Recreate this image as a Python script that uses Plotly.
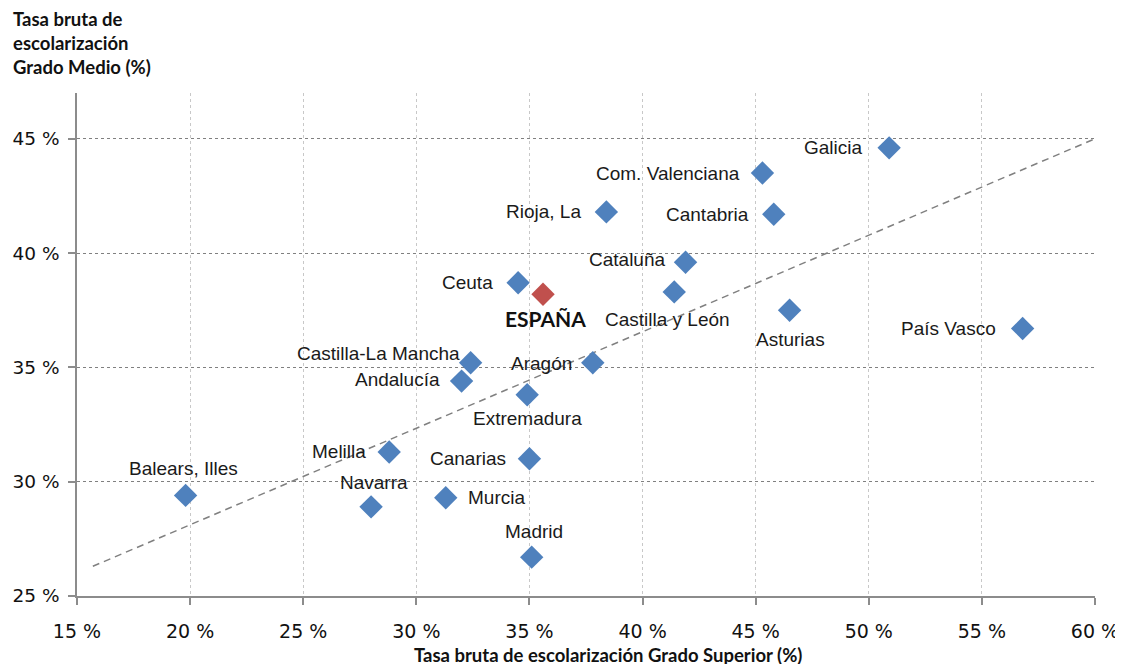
import plotly.graph_objects as go

regions = ["Galicia", "Com. Valenciana", "Rioja, La", "Cantabria", "Cataluña", "Ceuta",
           "Castilla y León", "Asturias", "País Vasco", "Castilla-La Mancha", "Aragón",
           "Andalucía", "Extremadura", "Melilla", "Canarias", "Balears, Illes", "Navarra",
           "Murcia", "Madrid"]
grado_superior = [50.9, 45.3, 38.4, 45.8, 41.9, 34.5, 41.4, 46.5, 56.8, 32.4, 37.8,
                  32.0, 34.9, 28.8, 35.0, 19.8, 28.0, 31.3, 35.1]
grado_medio = [44.6, 43.5, 41.8, 41.7, 39.6, 38.7, 38.3, 37.5, 36.7, 35.2, 35.2,
               34.4, 33.8, 31.3, 31.0, 29.4, 28.9, 29.3, 26.7]

espana_x = [35.6]
espana_y = [38.2]

trend_x = [15.7, 60.0]
trend_y = [26.3, 45.0]

x_ticks = [15, 20, 25, 30, 35, 40, 45, 50, 55, 60]
x_ticklabels = [f"{v} %" for v in x_ticks]
y_ticks = [25, 30, 35, 40, 45]
y_ticklabels = [f"{v} %" for v in y_ticks]

# label placement: (xanchor, xshift, yshift) in pixels
label_pos = {
    "Galicia": ("right", -24, 0),
    "Com. Valenciana": ("right", -20, 0),
    "Rioja, La": ("right", -23, 0),
    "Cantabria": ("right", -23, 0),
    "Cataluña": ("right", -19, 3),
    "Ceuta": ("right", -23, 0),
    "Castilla y León": ("center", -7, -28),
    "Asturias": ("center", 1, -29),
    "País Vasco": ("right", -25, 0),
    "Castilla-La Mancha": ("right", -9, 9),
    "Aragón": ("right", -19, -1),
    "Andalucía": ("right", -20, 2),
    "Extremadura": ("center", 0, -24),
    "Melilla": ("right", -21, 0),
    "Canarias": ("right", -21, 0),
    "Balears, Illes": ("center", -2, 27),
    "Navarra": ("center", 3, 24),
    "Murcia": ("left", 20, 0),
    "Madrid": ("center", 2, 26),
}

fig = go.Figure()

fig.add_trace(go.Scatter(
    x=trend_x, y=trend_y, mode="lines",
    line=dict(color="#808080", width=1.5, dash="7px,5px"),
    hoverinfo="skip", showlegend=False))

fig.add_trace(go.Scatter(
    x=grado_superior, y=grado_medio, mode="markers",
    marker=dict(symbol="diamond", size=18, color="#4F81BD",
                line=dict(width=0)),
    text=regions, showlegend=False))

fig.add_trace(go.Scatter(
    x=espana_x, y=espana_y, mode="markers",
    marker=dict(symbol="diamond", size=18, color="#C0504D",
                line=dict(width=0)),
    showlegend=False))

annotations = []
for name, xv, yv in zip(regions, grado_superior, grado_medio):
    xa, xs, ys = label_pos[name]
    annotations.append(dict(
        x=xv, y=yv, xref="x", yref="y", text=name, showarrow=False,
        xanchor=xa, yanchor="middle", xshift=xs, yshift=ys,
        font=dict(family="Liberation Sans, Arial", size=19, color="#1a1a1a")))

annotations.append(dict(
    x=espana_x[0], y=espana_y[0], xref="x", yref="y", text="<b>ESPAÑA</b>",
    showarrow=False, xanchor="center", yanchor="middle", xshift=2, yshift=-24,
    font=dict(family="Lato, Open Sans", size=21, color="#111111")))

annotations.append(dict(
    x=-0.0648, y=1.173, xref="paper", yref="paper", xanchor="left", yanchor="top",
    text="<b>Tasa bruta de<br>escolarización<br>Grado Medio (%)</b>",
    showarrow=False, align="left",
    font=dict(family="Lato, Open Sans", size=18.5, color="#111111")))

annotations.append(dict(
    x=0.5216, y=-0.117, xref="paper", yref="paper", xanchor="center", yanchor="middle",
    text="<b>Tasa bruta de escolarización Grado Superior (%)</b>",
    showarrow=False,
    font=dict(family="Lato, Open Sans", size=18.5, color="#111111")))

fig.update_layout(
    width=1123, height=664,
    margin=dict(l=69, r=36, t=85, b=76),
    paper_bgcolor="white", plot_bgcolor="white",
    annotations=annotations,
    xaxis=dict(
        range=[15, 60], tickvals=x_ticks, ticktext=x_ticklabels,
        showgrid=True, gridcolor="#C8C8C8", griddash="dot", gridwidth=1,
        showline=True, linecolor="#8C8C8C", linewidth=1.5,
        ticks="outside", ticklen=7, tickcolor="#8C8C8C", tickwidth=1.5,
        tickfont=dict(family="DejaVu Sans", size=19, color="#111111"),
        ticklabelstandoff=10,
        zeroline=False, automargin=False,
    ),
    yaxis=dict(
        range=[25, 47], tickvals=y_ticks, ticktext=y_ticklabels,
        showgrid=True, gridcolor="#808080", griddash="dot", gridwidth=1.2,
        showline=True, linecolor="#8C8C8C", linewidth=1.5,
        ticks="outside", ticklen=7, tickcolor="#8C8C8C", tickwidth=1.5,
        tickfont=dict(family="DejaVu Sans", size=18.5, color="#111111"),
        ticklabelstandoff=5,
        zeroline=False, automargin=False,
    ),
)

fig.write_html("out.html")
